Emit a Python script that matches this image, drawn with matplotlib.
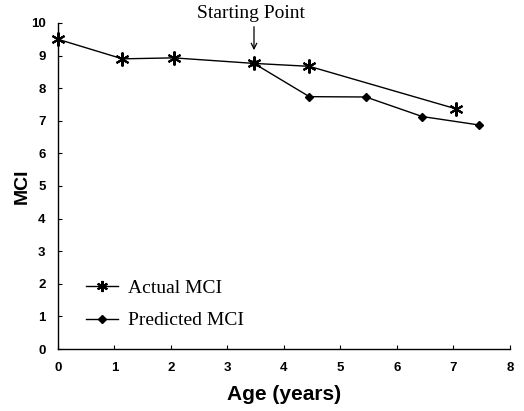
import matplotlib
matplotlib.use("Agg")
import matplotlib.pyplot as plt

# MCI readings by age
actual_age = [0.0, 1.14, 2.05, 3.47, 4.45, 7.04]
actual_mci = [9.50, 8.90, 8.93, 8.76, 8.67, 7.37]

predicted_age = [3.47, 4.45, 5.45, 6.45, 7.46]
predicted_mci = [8.76, 7.74, 7.73, 7.13, 6.87]

start_age = 3.47
start_mci = 8.76

fig = plt.figure(figsize=(5.24, 4.11), dpi=100)
ax = fig.add_axes([0.1107, 0.1508, 0.8623, 0.7933])

ax.plot(actual_age, actual_mci, color="black", lw=1.0,
        marker=(6, 2, 0), markersize=10, markeredgewidth=1.5,
        label="Actual MCI", clip_on=False)
ax.plot(predicted_age, predicted_mci, color="black", lw=1.0,
        marker="D", markersize=4.5, label="Predicted MCI", clip_on=False)

ax.set_xlim(0, 8)
ax.set_ylim(0, 10)
ax.set_xticks(range(0, 9))
ax.set_yticks(range(0, 11))
for s in ["top", "right"]:
    ax.spines[s].set_visible(False)
ax.spines["left"].set_linewidth(1.0)
ax.spines["bottom"].set_linewidth(1.0)
ax.tick_params(direction="in", length=3, width=0.8, labelsize=9.5)
ax.tick_params(axis="x", pad=9)
ax.tick_params(axis="y", pad=9)
for lbl in ax.get_xticklabels() + ax.get_yticklabels():
    lbl.set_fontfamily("Liberation Sans")
    lbl.set_fontweight("bold")

ax.set_xlabel("Age (years)", fontsize=15, fontfamily="Liberation Sans",
              fontweight="bold", labelpad=8)
ax.set_ylabel("MCI", fontsize=14, fontfamily="Liberation Sans",
              fontweight="bold", labelpad=0)

# arrow marking where the prediction begins
ax.annotate("", xy=(start_age, start_mci + 0.32), xytext=(start_age, 9.97),
            arrowprops=dict(arrowstyle="->", color="black", lw=0.9),
            annotation_clip=False)
ax.text(start_age - 0.06, 10.3, "Starting Point", ha="center", va="center",
        fontsize=14, fontfamily="Liberation Serif")

ax.legend(loc="lower left", bbox_to_anchor=(0.062, 0.06), frameon=False,
          borderaxespad=0, borderpad=0,
          prop={"family": "Liberation Serif", "size": 14},
          handlelength=1.65, handletextpad=0.5, labelspacing=0.75,
          markerscale=0.8)

fig.savefig("out.png", dpi=100)
